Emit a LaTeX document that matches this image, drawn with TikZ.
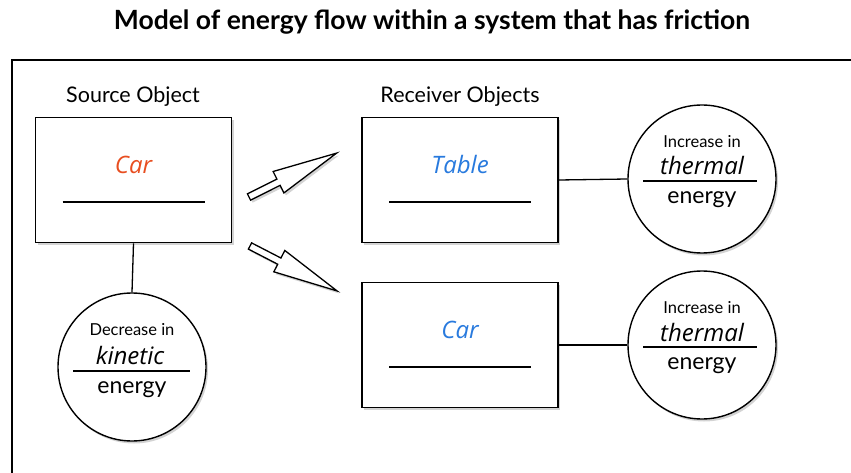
\documentclass[tikz,border=0pt]{standalone}
\usepackage{fontspec}
\setmainfont{Lato}
\newfontfamily\handfont{Open Sans}
\usetikzlibrary{shadows}
\definecolor{carred}{RGB}{232,78,32}
\definecolor{handblue}{RGB}{40,122,222}
\begin{document}
\begin{tikzpicture}[x=1pt,y=-1pt,
  shade/.style={drop shadow={opacity=0.35,shadow xshift=2pt,shadow yshift=-2.5pt}},
  objbox/.style={draw,line width=1.8pt,fill=white,minimum width=196pt,minimum height=125pt,inner sep=0pt,shade},
  ecircle/.style={circle,draw,line width=1.4pt,fill=white,minimum size=148pt,inner sep=0pt,shade},
  conn/.style={line width=1.3pt},
  blank/.style={line width=2.6pt},
  lbl/.style={font=\fontsize{21.5}{24}\selectfont},
  small/.style={font=\fontsize{16.5}{18}\selectfont},
  energy/.style={font=\fontsize{23}{25}\selectfont},
  hand/.style={font=\handfont\itshape\fontsize{24}{27}\selectfont},
  blockarrow/.style={draw,line width=1.3pt,fill=white,line join=miter,shade}]
\useasboundingbox (0,0) rectangle (851,473);
% title
\node[font=\bfseries\fontsize{26.5}{29}\selectfont] (title) at (432,22) {Model of energy flow within a system that has friction};
% frame
\draw[line width=2pt] (12,480) -- (12,60) -- (860,60);
% labels
\node[lbl] (srclbl) at (133,97) {Source Object};
\node[lbl] (reclbl) at (460,97) {Receiver Objects};
% boxes
\node[objbox] (src) at (133.5,180) {};
\node[objbox] (tbl) at (460,180) {};
\node[objbox] (car2) at (460,345) {};
\node[hand,text=carred] (srctxt) at ([shift={(0,-15)}]src.center) {Car};
\node[hand,text=handblue] (tbltxt) at ([shift={(0,-15)}]tbl.center) {Table};
\node[hand,text=handblue] (car2txt) at ([shift={(0,-15)}]car2.center) {Car};
\foreach \b in {src,tbl,car2}
  \draw[blank] ([shift={(-71,22)}]\b.center) -- ([shift={(71,22)}]\b.center);
% circles
\node[ecircle] (lc) at (132,367) {};
\node[ecircle] (tc) at (702,179) {};
\node[ecircle] (bc) at (702,345) {};
% connectors
\draw[conn] (src.south) -- (lc.north);
\draw[conn] (tbl.east) -- (tc.west);
\draw[conn] (car2.east) -- (bc.west);
% circle texts
\node[small] (lc1) at ([shift={(0,-37)}]lc.center) {Decrease in};
\node[hand] (lc2) at ([shift={(-2,-12)}]lc.center) {kinetic};
\draw[blank] ([shift={(-59,4)}]lc.center) -- ([shift={(58,4)}]lc.center);
\node[energy] (lc3) at ([shift={(0,23)}]lc.center) {energy};
\foreach \c in {tc,bc}{
  \node[small] at ([shift={(0,-37)}]\c.center) {Increase in};
  \node[hand] at ([shift={(0,-13)}]\c.center) {thermal};
  \draw[blank] ([shift={(-59,2)}]\c.center) -- ([shift={(55,2)}]\c.center);
  \node[energy] at ([shift={(0,21)}]\c.center) {energy};
}
% block arrows
\begin{scope}[shift={(249,197)},rotate=26.6]
  \draw[blockarrow] (0,-3.5) -- (33,-3.5) -- (33,-12) -- (98,0) -- (33,12) -- (33,3.5) -- (0,3.5) -- cycle;
\end{scope}
\begin{scope}[shift={(250,246)},rotate=-27.3]
  \draw[blockarrow] (0,-3.5) -- (33,-3.5) -- (33,-12) -- (98,0) -- (33,12) -- (33,3.5) -- (0,3.5) -- cycle;
\end{scope}
\end{tikzpicture}
\end{document}
